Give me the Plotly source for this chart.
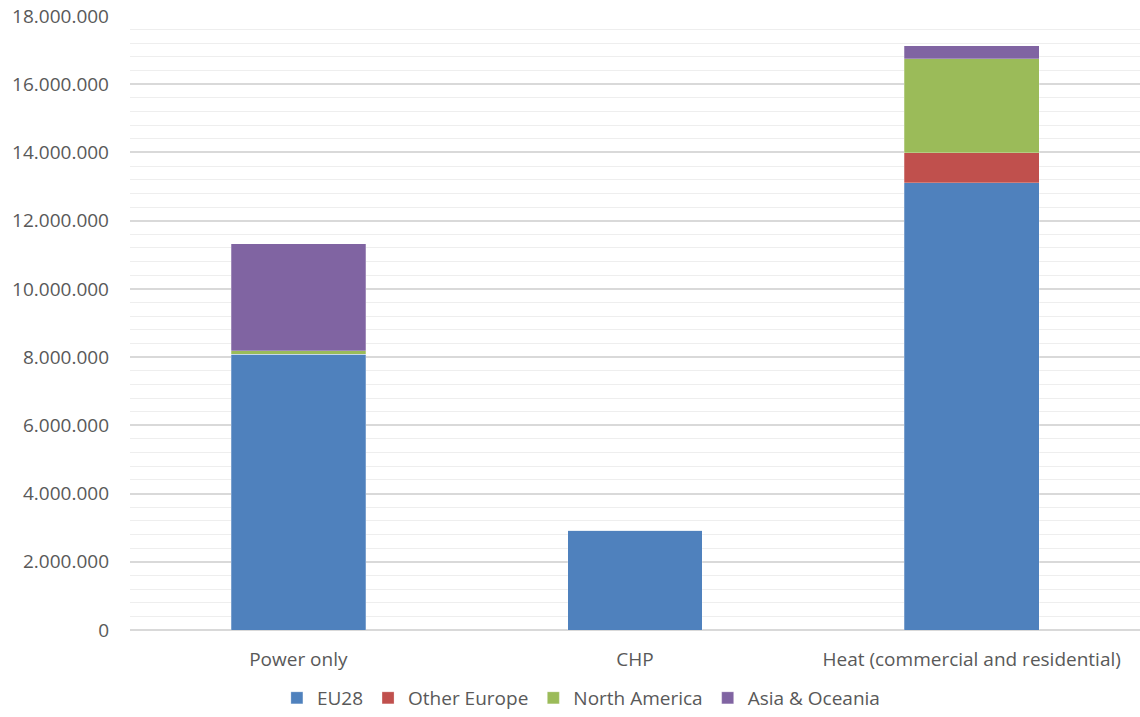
import plotly.graph_objects as go

# Categories and stacked series values
categories = ["Power only", "CHP", "Heat (commercial and residential)"]
eu28 = [8080000, 2930000, 13110000]
other_europe = [0, 0, 880000]
north_america = [100000, 0, 2750000]
asia_oceania = [3140000, 0, 390000]

series = [
    ("EU28", eu28, "#4F81BD"),
    ("Other Europe", other_europe, "#C0504D"),
    ("North America", north_america, "#9BBB59"),
    ("Asia & Oceania", asia_oceania, "#8064A2"),
]

y_ticks = list(range(0, 18000001, 2000000))

fig = go.Figure()
for name, values, color in series:
    fig.add_trace(go.Bar(
        name=name,
        x=categories,
        y=values,
        marker=dict(color=color, line=dict(color="rgba(255,255,255,0.5)", width=0.5)),
    ))

font_family = "Open Sans, Liberation Sans, Arial, sans-serif"
text_color = "#595959"

fig.update_layout(
    barmode="stack",
    bargap=0.6,
    width=1140,
    height=717,
    margin=dict(l=130, r=0, t=16, b=87, autoexpand=False),
    plot_bgcolor="white",
    paper_bgcolor="white",
    separators=",.",
    font=dict(family=font_family, size=19, color=text_color),
    showlegend=True,
    legend=dict(
        orientation="h",
        xref="container",
        yref="container",
        x=0.51,
        xanchor="center",
        y=-0.01,
        yanchor="bottom",
        font=dict(size=19, color=text_color),
        itemwidth=30,
        traceorder="normal",
    ),
    xaxis=dict(
        showline=False,
        ticks="",
        ticklabelstandoff=16,
        tickfont=dict(size=19, color=text_color),
    ),
    yaxis=dict(
        range=[0, 18000000],
        tickvals=y_ticks,
        tickformat=",d",
        showgrid=True,
        gridcolor="#D9D9D9",
        gridwidth=1.5,
        zeroline=True,
        zerolinecolor="#D9D9D9",
        zerolinewidth=1.5,
        ticks="",
        ticklabelstandoff=20,
        tickfont=dict(size=19, color=text_color),
        minor=dict(dtick=400000, showgrid=True, gridcolor="#EEEEEE", gridwidth=1),
    ),
)

fig.write_html("out.html")
